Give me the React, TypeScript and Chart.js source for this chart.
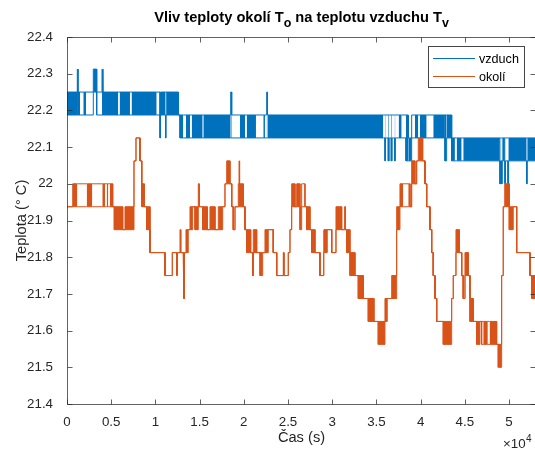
import { useEffect, useRef } from "react";
import { Chart, registerables } from "chart.js";

Chart.register(...registerables);

// ---------------- data ----------------
// Each run: [start time (s), lower level (°C), upper level (°C), dense toggling 1/0]
// The sensor is quantised in 1/16 °C steps; within a run the signal sits between lo and hi.
type Run = [number, number, number, number];

const timeEnd = 53050;

const xTickValues = [0, 5000, 10000, 15000, 20000, 25000, 30000, 35000, 40000, 45000, 50000];
const yTickValues = [21.4, 21.5, 21.6, 21.7, 21.8, 21.9, 22.0, 22.1, 22.2, 22.3, 22.4];

const seriesLabels = ["vzduch", "okolí"];

const vzduchRuns: Run[] = [
  [0, 22.1875, 22.25, 1],
  [1165, 22.25, 22.3125, 1],
  [1244, 22.1875, 22.25, 1],
  [1470, 22.1875, 22.25, 0],
  [1844, 22.1875, 22.25, 1],
  [2149, 22.1875, 22.25, 0],
  [2975, 22.25, 22.3125, 1],
  [3359, 22.1875, 22.25, 0],
  [3959, 22.25, 22.3125, 1],
  [4038, 22.1875, 22.25, 0],
  [4072, 22.1875, 22.25, 1],
  [5800, 22.1875, 22.25, 0],
  [5950, 22.1875, 22.25, 1],
  [7125, 22.1875, 22.25, 0],
  [7300, 22.1875, 22.25, 1],
  [10145, 22.1875, 22.25, 0],
  [10518, 22.125, 22.1875, 1],
  [10580, 22.1875, 22.25, 1],
  [11150, 22.125, 22.25, 1],
  [11210, 22.1875, 22.25, 1],
  [12588, 22.1875, 22.1875, 0],
  [12780, 22.125, 22.1875, 1],
  [13153, 22.125, 22.1875, 0],
  [13459, 22.125, 22.1875, 1],
  [13911, 22.125, 22.1875, 0],
  [14103, 22.125, 22.1875, 1],
  [15348, 22.125, 22.1875, 0],
  [15420, 22.125, 22.1875, 1],
  [18515, 22.125, 22.25, 1],
  [18628, 22.125, 22.1875, 0],
  [19566, 22.125, 22.1875, 1],
  [20132, 22.125, 22.1875, 0],
  [20324, 22.125, 22.1875, 1],
  [21376, 22.125, 22.1875, 0],
  [22202, 22.125, 22.1875, 1],
  [22394, 22.125, 22.1875, 0],
  [22586, 22.125, 22.25, 1],
  [22680, 22.125, 22.1875, 1],
  [35774, 22.125, 22.1875, 0],
  [35966, 22.0625, 22.1875, 1],
  [36030, 22.125, 22.1875, 0],
  [36340, 22.0625, 22.1875, 1],
  [36450, 22.125, 22.1875, 0],
  [36680, 22.0625, 22.1875, 1],
  [36780, 22.125, 22.1875, 0],
  [37060, 22.0625, 22.1875, 1],
  [37140, 22.125, 22.1875, 0],
  [37515, 22.125, 22.1875, 1],
  [37855, 22.125, 22.1875, 0],
  [38341, 22.0625, 22.1875, 1],
  [38600, 22.0625, 22.125, 1],
  [38986, 22.125, 22.1875, 0],
  [39359, 22.125, 22.1875, 1],
  [39732, 22.125, 22.1875, 0],
  [39924, 22.125, 22.1875, 1],
  [40682, 22.125, 22.1875, 0],
  [41429, 22.125, 22.1875, 1],
  [42752, 22.0625, 22.1875, 1],
  [42944, 22.125, 22.1875, 1],
  [43510, 22.0625, 22.125, 1],
  [43880, 22.0625, 22.125, 0],
  [44075, 22.0625, 22.125, 1],
  [44641, 22.0625, 22.125, 0],
  [44822, 22.0625, 22.125, 1],
  [48970, 22.0, 22.125, 1],
  [49050, 22.0625, 22.125, 0],
  [49164, 22.0, 22.125, 1],
  [49230, 22.0625, 22.125, 1],
  [49538, 22.0, 22.125, 1],
  [49600, 22.0625, 22.125, 0],
  [49880, 22.0, 22.125, 1],
  [49950, 22.0625, 22.125, 1],
  [51990, 22.0, 22.125, 1],
  [52060, 22.0625, 22.125, 1],
];

const okoliRuns: Run[] = [
  [0, 21.9375, 21.9375, 0],
  [645, 21.9375, 22.0, 1],
  [1165, 21.9375, 22.0, 0],
  [2228, 21.9375, 22.0, 1],
  [2861, 21.9375, 22.0, 0],
  [3992, 21.9375, 22.0, 1],
  [4298, 21.9375, 22.0, 0],
  [4490, 21.9375, 22.0, 1],
  [4671, 21.9375, 22.0, 0],
  [4863, 21.9375, 22.0, 1],
  [5169, 21.9375, 21.9375, 0],
  [5350, 21.875, 21.9375, 1],
  [6300, 21.875, 21.875, 0],
  [6560, 21.875, 21.9375, 1],
  [7578, 22.0625, 22.0625, 0],
  [7804, 22.125, 22.125, 0],
  [8256, 22.0625, 22.0625, 0],
  [8449, 21.9375, 22.0, 1],
  [8743, 21.9375, 21.9375, 0],
  [9014, 21.875, 21.9375, 1],
  [9387, 21.8125, 21.8125, 0],
  [11084, 21.75, 21.75, 0],
  [11909, 21.8125, 21.8125, 0],
  [12407, 21.75, 21.8125, 1],
  [12500, 21.8125, 21.8125, 0],
  [12780, 21.8125, 21.875, 1],
  [12870, 21.8125, 21.8125, 0],
  [13153, 21.75, 21.75, 0],
  [13233, 21.6875, 21.6875, 0],
  [13290, 21.8125, 21.8125, 0],
  [13459, 21.8125, 21.875, 1],
  [13719, 21.875, 21.875, 0],
  [13911, 21.875, 21.9375, 1],
  [14216, 21.9375, 21.9375, 0],
  [14477, 21.875, 21.9375, 1],
  [14850, 21.9375, 22.0, 1],
  [14963, 21.9375, 21.9375, 0],
  [15348, 21.875, 21.9375, 1],
  [15868, 21.875, 21.875, 0],
  [16173, 21.875, 21.9375, 1],
  [16739, 21.875, 21.875, 0],
  [17112, 21.875, 21.9375, 1],
  [17610, 21.9375, 21.9375, 0],
  [17870, 22.0, 22.0, 0],
  [18062, 22.0, 22.0625, 1],
  [18435, 22.0, 22.0, 0],
  [18628, 21.9375, 21.9375, 0],
  [18809, 21.875, 21.875, 0],
  [19001, 21.9375, 21.9375, 0],
  [19374, 21.9375, 22.0, 1],
  [19460, 22.0, 22.0625, 1],
  [19520, 21.9375, 22.0, 1],
  [19940, 21.9375, 21.9375, 0],
  [20132, 21.875, 21.875, 0],
  [20324, 21.8125, 21.875, 1],
  [20776, 21.8125, 21.8125, 0],
  [21003, 21.75, 21.75, 0],
  [21071, 21.8125, 21.875, 1],
  [21456, 21.8125, 21.8125, 0],
  [21828, 21.75, 21.8125, 1],
  [22134, 21.8125, 21.8125, 0],
  [22394, 21.8125, 21.875, 1],
  [22767, 21.875, 21.875, 0],
  [23333, 21.8125, 21.8125, 0],
  [23717, 21.75, 21.75, 0],
  [24463, 21.75, 21.8125, 1],
  [24550, 21.75, 21.75, 0],
  [25029, 21.8125, 21.8125, 0],
  [25221, 21.875, 21.875, 0],
  [25413, 21.9375, 22.0, 1],
  [25787, 21.9375, 21.9375, 0],
  [25979, 21.9375, 22.0, 1],
  [26352, 21.875, 21.9375, 1],
  [26544, 21.9375, 22.0, 0],
  [26917, 21.9375, 21.9375, 0],
  [27109, 21.875, 21.9375, 1],
  [27483, 21.875, 21.875, 0],
  [27675, 21.8125, 21.875, 1],
  [28049, 21.8125, 21.8125, 0],
  [28614, 21.75, 21.75, 0],
  [28988, 21.8125, 21.8125, 0],
  [29067, 21.8125, 21.875, 1],
  [29440, 21.875, 21.875, 0],
  [29938, 21.8125, 21.8125, 0],
  [30424, 21.875, 21.9375, 1],
  [31069, 21.875, 21.875, 0],
  [31400, 21.875, 21.9375, 1],
  [31500, 21.875, 21.875, 0],
  [31634, 21.8125, 21.875, 1],
  [32007, 21.75, 21.8125, 1],
  [32573, 21.75, 21.75, 0],
  [32946, 21.6875, 21.75, 1],
  [33512, 21.6875, 21.6875, 0],
  [34077, 21.625, 21.6875, 1],
  [34722, 21.625, 21.625, 0],
  [35208, 21.5625, 21.625, 1],
  [35966, 21.625, 21.6875, 1],
  [36226, 21.6875, 21.6875, 0],
  [36724, 21.6875, 21.75, 1],
  [37289, 21.875, 21.9375, 1],
  [37662, 21.9375, 22.0, 1],
  [38036, 21.9375, 22.0, 0],
  [38601, 21.9375, 22.0, 1],
  [38800, 21.9375, 21.9375, 0],
  [38986, 22.0, 22.0625, 1],
  [39359, 22.0, 22.0, 0],
  [39551, 22.0625, 22.0625, 0],
  [39732, 22.0625, 22.125, 1],
  [40230, 22.0625, 22.0625, 0],
  [40490, 22.0, 22.0, 0],
  [40682, 21.9375, 21.9375, 0],
  [41055, 21.875, 21.875, 0],
  [41248, 21.8125, 21.8125, 0],
  [41429, 21.75, 21.75, 0],
  [41621, 21.6875, 21.6875, 0],
  [41813, 21.625, 21.625, 0],
  [42559, 21.5625, 21.625, 1],
  [43510, 21.6875, 21.6875, 0],
  [43691, 21.75, 21.75, 0],
  [43996, 21.8125, 21.875, 1],
  [44369, 21.8125, 21.8125, 0],
  [44641, 21.75, 21.75, 0],
  [44822, 21.6875, 21.6875, 0],
  [45014, 21.75, 21.8125, 1],
  [45387, 21.75, 21.75, 0],
  [45579, 21.625, 21.6875, 1],
  [45953, 21.625, 21.625, 0],
  [46337, 21.5625, 21.625, 1],
  [46710, 21.625, 21.625, 0],
  [46902, 21.5625, 21.625, 0],
  [47083, 21.5625, 21.625, 1],
  [47600, 21.5625, 21.625, 0],
  [47800, 21.5625, 21.625, 1],
  [48599, 21.5625, 21.5625, 0],
  [48780, 21.5, 21.5625, 1],
  [49164, 21.75, 21.75, 0],
  [49345, 21.9375, 21.9375, 0],
  [49538, 22.0, 22.0, 0],
  [49651, 21.9375, 22.0, 1],
  [50024, 21.875, 21.9375, 1],
  [50477, 21.9375, 21.9375, 0],
  [50861, 21.8125, 21.8125, 0],
  [52366, 21.75, 21.75, 0],
  [52558, 21.6875, 21.75, 1],
];

// ---------------- styling ----------------
const BLUE = "#0072BD";
const ORANGE = "#D95319";
const FONT = '"Liberation Sans", Arial, Helvetica, sans-serif';
const TEXT = "#262626";
const AXIS = "rgba(38,38,38,0.72)";

function stepPoints(runs: Run[], col: 1 | 2) {
  const pts: { x: number; y: number }[] = [];
  runs.forEach((r, i) => {
    const end = i + 1 < runs.length ? runs[i + 1][0] : timeEnd;
    pts.push({ x: r[0], y: r[col] }, { x: end, y: r[col] });
  });
  return pts;
}

function seriesDatasets(runs: Run[], color: string, label: string) {
  const common = {
    borderColor: color,
    borderWidth: 1,
    pointRadius: 0,
    pointHoverRadius: 0,
    tension: 0,
  };
  return [
    {
      ...common,
      label,
      data: stepPoints(runs, 2),
      backgroundColor: color,
      fill: "+1",
      segment: {
        backgroundColor: (c: any) =>
          c.p0DataIndex % 2 === 0 && runs[c.p0DataIndex / 2] && runs[c.p0DataIndex / 2][3]
            ? color
            : "rgba(0,0,0,0)",
      },
    },
    {
      ...common,
      label: label + "-lo",
      data: stepPoints(runs, 1),
      backgroundColor: color,
      fill: false,
    },
  ];
}

const decorPlugin = {
  id: "matlabDecor",
  afterDatasetsDraw(chart: any) {
    const ctx = chart.ctx as CanvasRenderingContext2D;
    const { left, right, top, bottom } = chart.chartArea;
    const xs = chart.scales.x;
    const ys = chart.scales.y;
    const L = Math.round(left) + 0.5;
    const R = Math.round(right) - 0.5;
    const T = Math.round(top) + 0.5;
    const B = Math.round(bottom) + 0.5;
    ctx.save();
    ctx.strokeStyle = AXIS;
    ctx.lineWidth = 1;
    ctx.beginPath();
    ctx.moveTo(L, T);
    ctx.lineTo(R, T);
    ctx.lineTo(R, B);
    ctx.lineTo(L, B);
    ctx.closePath();
    ctx.stroke();
    const tl = 5;
    ctx.beginPath();
    for (const v of xTickValues) {
      const p = Math.round(xs.getPixelForValue(v)) + 0.5;
      ctx.moveTo(p, B);
      ctx.lineTo(p, B - tl);
      ctx.moveTo(p, T);
      ctx.lineTo(p, T + tl);
    }
    for (const v of yTickValues) {
      const p = Math.round(ys.getPixelForValue(v)) + 0.5;
      ctx.moveTo(L, p);
      ctx.lineTo(L + tl, p);
      ctx.moveTo(R, p);
      ctx.lineTo(R - tl, p);
    }
    ctx.stroke();
    ctx.restore();
  },
  afterDraw(chart: any) {
    const ctx = chart.ctx as CanvasRenderingContext2D;
    const { left, right, top, bottom } = chart.chartArea;
    const cx = (left + right) / 2;
    ctx.save();
    ctx.fillStyle = "#000";
    ctx.textBaseline = "alphabetic";

    // Title with subscripts
    const mainFont = `bold 14.67px ${FONT}`;
    const subFont = `bold 12.5px ${FONT}`;
    const parts: [string, boolean][] = [
      ["Vliv teploty okolí T", false],
      ["o", true],
      [" na teplotu vzduchu T", false],
      ["v", true],
    ];
    const widths = parts.map(([s, sub]) => {
      ctx.font = sub ? subFont : mainFont;
      return ctx.measureText(s).width;
    });
    const total = widths.reduce((a, b) => a + b, 0);
    let x = cx - total / 2;
    const titleBase = 22;
    parts.forEach(([s, sub], i) => {
      ctx.font = sub ? subFont : mainFont;
      ctx.textAlign = "left";
      ctx.fillText(s, x, sub ? titleBase + 5 : titleBase);
      x += widths[i];
    });

    // Axis labels
    ctx.fillStyle = TEXT;
    ctx.font = `14.67px ${FONT}`;
    ctx.textAlign = "center";
    ctx.fillText("Čas (s)", cx, 442);
    ctx.save();
    ctx.translate(26, (top + bottom) / 2);
    ctx.rotate(-Math.PI / 2);
    ctx.fillText("Teplota (° C)", 0, 0);
    ctx.restore();

    // Exponent label
    ctx.textAlign = "left";
    ctx.font = `13.33px ${FONT}`;
    const expX = 503;
    ctx.fillText("×10", expX, 447.5);
    const w = ctx.measureText("×10").width;
    ctx.font = `10px ${FONT}`;
    ctx.fillText("4", expX + w + 0.5, 441.5);

    // Legend
    const bx = 428.5, by = 46.5, bw = 96, bh = 41;
    ctx.fillStyle = "#fff";
    ctx.fillRect(bx, by, bw, bh);
    ctx.strokeStyle = "rgba(38,38,38,0.85)";
    ctx.lineWidth = 1;
    ctx.strokeRect(bx, by, bw, bh);
    const entries: [string, string, number][] = [
      [seriesLabels[0], BLUE, 58.5],
      [seriesLabels[1], ORANGE, 76.5],
    ];
    ctx.font = `12.6px ${FONT}`;
    for (const [lab, col, ly] of entries) {
      ctx.strokeStyle = col;
      ctx.beginPath();
      ctx.moveTo(433, ly);
      ctx.lineTo(475, ly);
      ctx.stroke();
      ctx.fillStyle = "#000";
      ctx.fillText(lab, 479, ly + 4.5);
    }
    ctx.restore();
  },
};

export default function App() {
  const ref = useRef<HTMLCanvasElement>(null);
  useEffect(() => {
    const canvas = ref.current;
    if (!canvas) return;
    const chart = new Chart(canvas, {
      type: "line",
      data: {
        datasets: [
          ...seriesDatasets(okoliRuns, ORANGE, seriesLabels[1]),
          ...seriesDatasets(vzduchRuns, BLUE, seriesLabels[0]),
        ] as any,
      },
      options: {
        responsive: false,
        animation: false,
        devicePixelRatio: 1,
        events: [],
        layout: { padding: { top: 37, right: 24, left: 0, bottom: 0 } },
        plugins: {
          legend: { display: false },
          tooltip: { enabled: false },
          title: { display: false },
        },
        scales: {
          x: {
            type: "linear",
            min: 0,
            max: timeEnd,
            grid: { display: false },
            border: { display: false },
            afterBuildTicks: (s: any) => {
              s.ticks = xTickValues.map((v) => ({ value: v }));
            },
            afterFit: (s: any) => {
              s.height = 46;
            },
            ticks: {
              autoSkip: false,
              maxRotation: 0,
              padding: 2,
              color: TEXT,
              font: { family: FONT, size: 13.33 },
              callback: (v: any) => String(Number(v) / 10000),
            },
          },
          y: {
            type: "linear",
            min: 21.4,
            max: 22.4,
            grid: { display: false },
            border: { display: false },
            afterBuildTicks: (s: any) => {
              s.ticks = yTickValues.map((v) => ({ value: v }));
            },
            afterFit: (s: any) => {
              s.width = 67;
            },
            ticks: {
              autoSkip: false,
              padding: 6,
              color: TEXT,
              font: { family: FONT, size: 13.33 },
              callback: (v: any) => String(Number(Number(v).toFixed(1))),
            },
          },
        },
      } as any,
      plugins: [decorPlugin],
    });
    return () => chart.destroy();
  }, []);

  return (
    <div
      style={{
        position: "fixed",
        left: 0,
        top: 0,
        width: 535,
        height: 450,
        overflow: "hidden",
        background: "#fff",
      }}
    >
      <canvas ref={ref} width={560} height={450} style={{ display: "block", width: 560, height: 450 }} />
    </div>
  );
}
